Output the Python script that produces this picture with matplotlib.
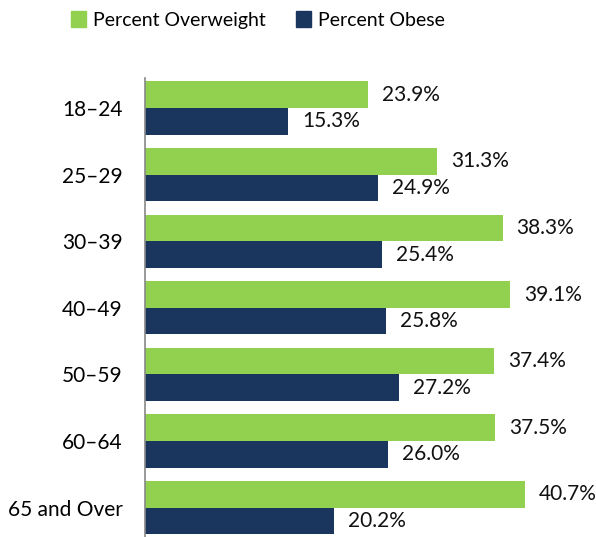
import matplotlib
matplotlib.use("Agg")
import matplotlib.pyplot as plt
from matplotlib.patches import Patch
import numpy as np

categories = ["18–24", "25–29", "30–39", "40–49", "50–59", "60–64", "65 and Over"]
overweight = [23.9, 31.3, 38.3, 39.1, 37.4, 37.5, 40.7]
obese = [15.3, 24.9, 25.4, 25.8, 27.2, 26.0, 20.2]
series_names = ["Percent Overweight", "Percent Obese"]
colors = ["#92D050", "#1A365E"]

plt.rcParams['font.family'] = ['Lato', 'DejaVu Sans']

fig = plt.figure(figsize=(5.96, 5.37), dpi=100)
ax = fig.add_axes([145/596, 0.0, 451/596, 459/537])

y = np.arange(len(categories))
h = 0.4
ax.barh(y - h/2, overweight, height=h, color=colors[0])
ax.barh(y + h/2, obese, height=h, color=colors[1])

fs = 15
for yi, v in zip(y, overweight):
    ax.text(v + 1.5, yi - h/2, f"{v:.1f}%", va="center", ha="left", fontsize=fs, color="#111111")
for yi, v in zip(y, obese):
    ax.text(v + 1.5, yi + h/2, f"{v:.1f}%", va="center", ha="left", fontsize=fs, color="#111111")

ax.set_xlim(0, 48.3)
ax.set_ylim(6.44, -0.45)
ax.set_yticks(y)
ax.set_yticklabels(categories, fontsize=fs)
ax.tick_params(axis='y', length=0, pad=16)
ax.set_xticks([])
for s in ["top", "right", "bottom"]:
    ax.spines[s].set_visible(False)
ax.spines["left"].set_color("#888888")
ax.spines["left"].set_linewidth(1.2)

handles = [Patch(color=c, label=n) for c, n in zip(colors, series_names)]
fig.legend(handles=handles, loc="center", bbox_to_anchor=(258/596, 1 - 20/537), ncol=2,
           frameon=False, fontsize=14, handlelength=0.75, handleheight=0.9,
           handletextpad=0.35, columnspacing=1.6)

fig.savefig("out.png", dpi=100)
